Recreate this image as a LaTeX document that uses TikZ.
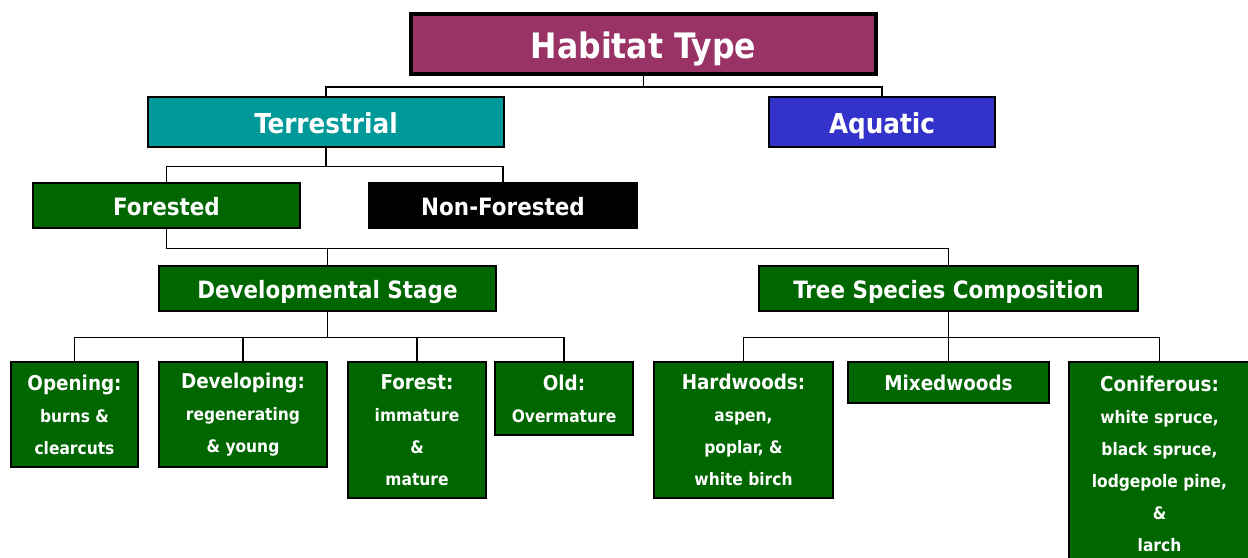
\documentclass[tikz,border=0pt]{standalone}
\usepackage{fontspec}
\setmainfont{DejaVu Sans Condensed}
\usetikzlibrary{positioning}
\definecolor{habitatpurple}{HTML}{993366}
\definecolor{terrteal}{HTML}{009999}
\definecolor{aquablue}{HTML}{3333CC}
\definecolor{woodgreen}{HTML}{006600}
\newcommand{\leafhead}[1]{{\fontsize{15.3}{24}\selectfont #1}}

\begin{document}
\begin{tikzpicture}[x=0.75pt, y=-0.75pt,
	box/.style={rectangle, draw=black, line width=2pt, inner sep=0pt, text=white, align=center},
	topbox/.style={box, line width=3pt, fill=habitatpurple, text height=22.4pt, text depth=0pt, font=\fontsize{26.3}{30}\selectfont\bfseries},
	tealbox/.style={box, fill=terrteal, text height=17.5pt, text depth=0pt, font=\fontsize{20.6}{24}\selectfont\bfseries},
	bluebox/.style={box, fill=aquablue, text height=17.5pt, text depth=0pt, font=\fontsize{20.6}{24}\selectfont\bfseries},
	greenbox/.style={box, fill=woodgreen, text height=15.2pt, text depth=0pt, font=\fontsize{17.9}{22}\selectfont\bfseries},
	blackbox/.style={box, fill=black, text height=15.2pt, text depth=0pt, font=\fontsize{17.9}{22}\selectfont\bfseries},
	leafbox/.style={box, fill=woodgreen, font=\fontsize{12.9}{24}\selectfont\bfseries},
	link/.style={draw=black, line width=0.8pt}
	]
	\useasboundingbox (0,0) rectangle (1248,557);
	
	% levels 1 and 2
	\node[topbox, minimum width=348.75pt, minimum height=45pt] (habitat) at (643.5,44) {Habitat Type};
	\node[tealbox, minimum width=267pt, minimum height=37.5pt] (terr) at (326,122) {Terrestrial};
	\node[bluebox, minimum width=169.5pt, minimum height=37.5pt] (aqua) at (882,122) {Aquatic};
	\draw[link] (habitat.south) -- ++(0,11) -| (terr.north);
	\draw[link] (habitat.south) -- ++(0,11) -| (aqua.north);
	
	% level 3
	\node[greenbox, minimum width=200.25pt, minimum height=33.75pt] (forested) at (166.5,205.5) {Forested};
	\node[blackbox, minimum width=201pt, minimum height=33.75pt] (nonforested) at (503,205.5) {Non-Forested};
	\draw[link] (terr.south) -- ++(0,18) -| (forested.north);
	\draw[link] (terr.south) -- ++(0,18) -| (nonforested.north);
	
	% level 4
	\node[greenbox, minimum width=252.75pt, minimum height=33.75pt] (devstage) at (327.5,288.5) {Developmental Stage};
	\node[greenbox, minimum width=284.25pt, minimum height=33.75pt] (species) at (948.5,288.5) {Tree Species Composition};
	\draw[link] (forested.south) -- ++(0,19) -| (devstage.north);
	\draw[link] (forested.south) -- ++(0,19) -| (species.north);
	
	% developmental stages
	\node[leafbox, minimum width=95.25pt, minimum height=78.75pt] (opening) at (74.5,414.5) {\leafhead{Opening:}\\ burns \&\\ clearcuts};
	\node[leafbox, minimum width=126pt, minimum height=78.75pt] (developing) at (243,414.5) {\leafhead{Developing:}\\ regenerating\\ \& young};
	\node[leafbox, minimum width=103.5pt, minimum height=102pt] (forest) at (417,430) {\leafhead{Forest:}\\ immature\\ \&\\ mature};
	\node[leafbox, minimum width=103.5pt, minimum height=54.75pt] (old) at (564,398.5) {\leafhead{Old:}\\ Overmature};
	\foreach \leaf in {opening, developing, forest, old}
		\draw[link] (devstage.south) -- ++(0,25) -| (\leaf.north);
	
	% species composition
	\node[leafbox, minimum width=134.25pt, minimum height=102pt] (hardwoods) at (743.5,430) {\leafhead{Hardwoods:}\\ aspen,\\ poplar, \&\\ white birch};
	\node[leafbox, minimum width=150.75pt, minimum height=30.75pt] (mixedwoods) at (948.5,382.5) {\leafhead{Mixedwoods}};
	\node[leafbox, minimum width=135.75pt, minimum height=153pt] (coniferous) at (1159.5,464) {\leafhead{Coniferous:}\\ white spruce,\\ black spruce,\\ lodgepole pine,\\ \&\\ larch};
	\foreach \leaf in {hardwoods, mixedwoods, coniferous}
		\draw[link] (species.south) -- ++(0,25) -| (\leaf.north);
\end{tikzpicture}
\end{document}
